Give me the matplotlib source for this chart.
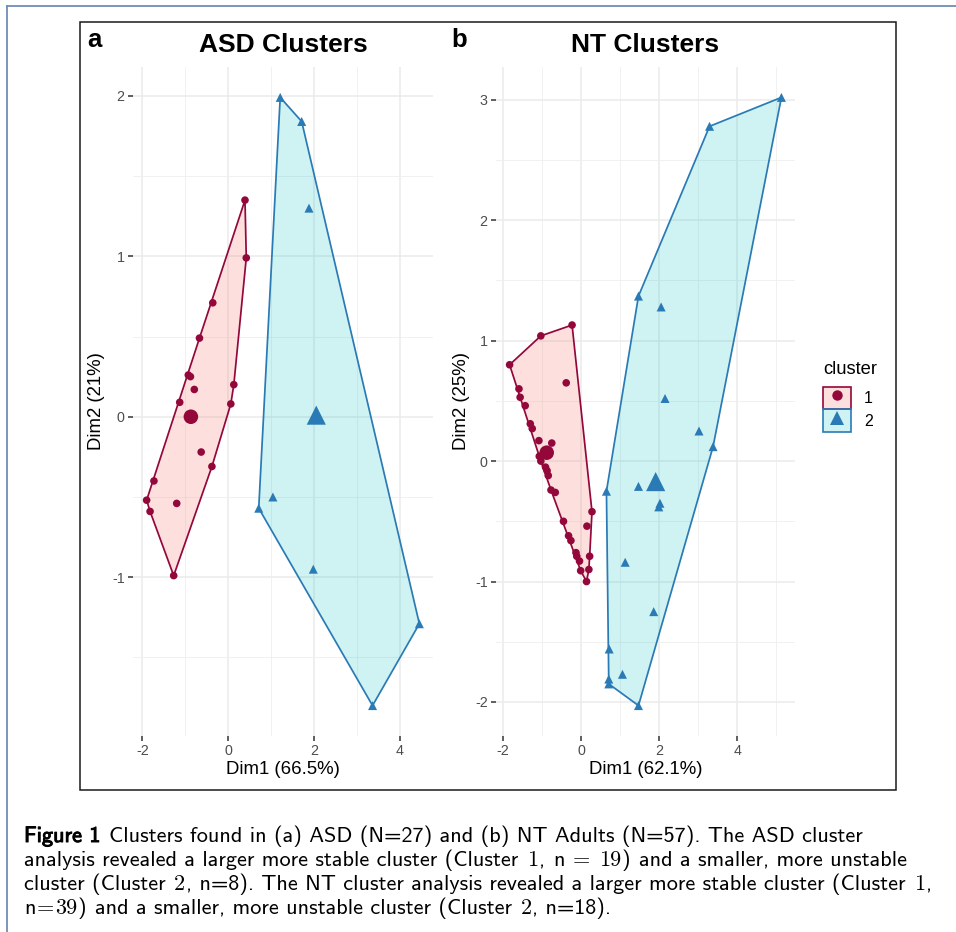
import numpy as np
import matplotlib
matplotlib.use("Agg")
import matplotlib.pyplot as plt
from matplotlib.patches import Patch, Rectangle
from matplotlib.lines import Line2D
from matplotlib.legend_handler import HandlerTuple
import matplotlib.patheffects as pe

# ---------------- data ----------------
asd_c1_x = [0.39, 0.42, -0.36, -0.67, -0.93, -0.88, -0.79, -1.13, 0.13, 0.06,
            -0.63, -0.38, -1.73, -1.90, -1.82, -1.20, -1.27]
asd_c1_y = [1.35, 0.99, 0.71, 0.49, 0.26, 0.25, 0.17, 0.09, 0.20, 0.08,
            -0.22, -0.31, -0.40, -0.52, -0.59, -0.54, -0.99]
asd_c2_x = [1.21, 1.71, 1.88, 1.04, 0.71, 1.98, 4.45, 3.36]
asd_c2_y = [1.99, 1.84, 1.30, -0.50, -0.57, -0.95, -1.29, -1.80]
asd_cent_x = [-0.87, 2.05]
asd_cent_y = [0.00, 0.01]

nt_c1_x = [-1.83, -1.03, -0.23, -0.38, -1.59, -1.56, -1.43, -1.30, -1.25, -1.08,
           -0.75, -1.07, -1.03, -0.91, -0.87, -0.84, -0.77, -0.66, 0.28, 0.15,
           -0.45, -0.32, -0.26, -0.13, -0.11, -0.04, 0.22, 0.20, -0.01, 0.14]
nt_c1_y = [0.80, 1.04, 1.13, 0.65, 0.60, 0.53, 0.46, 0.31, 0.27, 0.17,
           0.15, 0.04, 0.00, -0.05, -0.08, -0.12, -0.24, -0.26, -0.42, -0.54,
           -0.50, -0.62, -0.66, -0.76, -0.79, -0.83, -0.79, -0.90, -0.91, -1.00]
nt_c2_x = [5.13, 3.29, 1.47, 2.05, 2.15, 3.02, 3.38, 0.65, 1.47, 2.02,
           1.99, 1.13, 1.86, 0.72, 1.06, 0.71, 0.71, 1.47]
nt_c2_y = [3.02, 2.78, 1.37, 1.28, 0.52, 0.25, 0.12, -0.25, -0.21, -0.35,
           -0.38, -0.84, -1.25, -1.56, -1.77, -1.81, -1.85, -2.03]
nt_cent_x = [-0.88, 1.91]
nt_cent_y = [0.07, -0.17]

cluster_labels = ["1", "2"]
panel_titles = ["ASD Clusters", "NT Clusters"]
panel_letters = ["a", "b"]
xlabels = ["Dim1 (66.5%)", "Dim1 (62.1%)"]
ylabels = ["Dim2 (21%)", "Dim2 (25%)"]
asd_xticks = [-2, 0, 2, 4]
asd_yticks = [-1, 0, 1, 2]
nt_xticks = [-2, 0, 2, 4]
nt_yticks = [-2, -1, 0, 1, 2, 3]

# ---------------- style ----------------
LINE_COLS = ["#93073B", "#2A7AB5"]
FILL_COLS = [(0.973, 0.463, 0.427, 0.22), (0.0, 0.749, 0.769, 0.19)]
MARKERS = ["o", "^"]
FONT = "Liberation Sans"
plt.rcParams["font.family"] = [FONT, "DejaVu Sans"]
plt.rcParams["axes.unicode_minus"] = False
plt.rcParams["mathtext.fontset"] = "cm"

W, H = 956, 932
fig = plt.figure(figsize=(W / 100, H / 100), dpi=100)


def fx(px):
    return px / W


def fy(py):
    return 1 - py / H


def hull(xs, ys):
    pts = sorted(set(zip(xs, ys)))

    def cross(o, a, b):
        return (a[0] - o[0]) * (b[1] - o[1]) - (a[1] - o[1]) * (b[0] - o[0])

    lower, upper = [], []
    for p in pts:
        while len(lower) >= 2 and cross(lower[-2], lower[-1], p) <= 0:
            lower.pop()
        lower.append(p)
    for p in reversed(pts):
        while len(upper) >= 2 and cross(upper[-2], upper[-1], p) <= 0:
            upper.pop()
        upper.append(p)
    h = lower[:-1] + upper[:-1]
    return [p[0] for p in h], [p[1] for p in h]


def panel(rect, clusters, cents, xticks, yticks, title, letter, xl, yl, ylab_x, letter_x):
    ax = fig.add_axes(rect)
    ax.set_zorder(1)
    for i, (xs, ys) in enumerate(clusters):
        hx, hy = hull(xs, ys)
        ax.fill(hx, hy, facecolor=FILL_COLS[i], edgecolor="none", zorder=2)
        ax.fill(hx, hy, facecolor="none", edgecolor=LINE_COLS[i], lw=1.25, zorder=3)
        ms = 30 if MARKERS[i] == "o" else 42
        ax.scatter(xs, ys, s=ms, marker=MARKERS[i], color=LINE_COLS[i],
                   edgecolors="none", zorder=4)
        big = 110 if MARKERS[i] == "o" else 190
        ax.scatter([cents[0][i]], [cents[1][i]], s=big, marker=MARKERS[i],
                   color=LINE_COLS[i], edgecolors="none", zorder=5)
    ax.margins(0.05)
    ax.set_xticks(xticks)
    ax.set_yticks(yticks)
    ax.set_xticklabels([str(t) for t in xticks])
    ax.set_yticklabels([str(t) for t in yticks])
    x0, x1 = ax.get_xlim()
    y0, y1 = ax.get_ylim()
    xm = [t + 1 for t in range(int(np.floor(x0)) - 1, int(np.ceil(x1)) + 1, 2)
          if x0 < t + 1 < x1 and (t + 1) not in xticks]
    ym = [v for v in np.arange(np.floor(y0) - 0.5, np.ceil(y1) + 0.5, 1.0)
          if y0 < v < y1]
    ax.set_xticks(xm, minor=True)
    ax.set_yticks(ym, minor=True)
    ax.set_xlim(x0, x1)
    ax.set_ylim(y0, y1)
    ax.set_axisbelow(True)
    ax.grid(which="major", color="#EBEBEB", lw=1.1)
    ax.grid(which="minor", color="#EFEFEF", lw=0.6)
    for s in ax.spines.values():
        s.set_visible(False)
    ax.tick_params(which="major", length=3.6, width=1.1, color="#333333",
                   labelcolor="#4D4D4D", labelsize=10.3, pad=2.4)
    ax.tick_params(which="minor", length=0)
    ax.set_xlabel(xl, fontsize=13.4)
    ax.set_ylabel(yl, fontsize=13.4)
    ax.xaxis.set_label_coords(0.5, -0.038)
    ax.yaxis.set_label_coords(ylab_x, 0.5)
    ax.set_title(title, fontsize=19, fontweight="bold", pad=10.8)
    fig.text(fx(letter_x), fy(47), letter, fontsize=18.5, fontweight="bold",
             ha="left", va="baseline")
    return ax


ax_a = panel([fx(133), fy(736), (433 - 133) / W, (736 - 67) / H],
             [(asd_c1_x, asd_c1_y), (asd_c2_x, asd_c2_y)], (asd_cent_x, asd_cent_y),
             asd_xticks, asd_yticks, panel_titles[0], panel_letters[0],
             xlabels[0], ylabels[0], -0.093, 87)
ax_b = panel([fx(496), fy(736), (795 - 496) / W, (736 - 67) / H],
             [(nt_c1_x, nt_c1_y), (nt_c2_x, nt_c2_y)], (nt_cent_x, nt_cent_y),
             nt_xticks, nt_yticks, panel_titles[1], panel_letters[1],
             xlabels[1], ylabels[1], -0.087, 451)

# legend
fig.text(fx(823), fy(369), "cluster", fontsize=13.2, ha="left", va="center")
handles = []
for i in range(2):
    p = Patch(facecolor=FILL_COLS[i], edgecolor=LINE_COLS[i], lw=1.2)
    m = Line2D([], [], ls="none", marker=MARKERS[i], color=LINE_COLS[i],
               markersize=7.5 if MARKERS[i] == "o" else 9.5, markeredgewidth=0)
    handles.append((p, m))
fs_leg = 11.5
fig.legend(handles, cluster_labels, handler_map={tuple: HandlerTuple(ndivide=1, pad=0)},
           loc="upper left", bbox_to_anchor=(fx(823), fy(386.5)), frameon=False,
           fontsize=fs_leg, handlelength=28 / (fs_leg * 100 / 72),
           handleheight=28 / (fs_leg * 100 / 72), labelspacing=0.05,
           handletextpad=0.8, borderpad=0, borderaxespad=0)

# chart box and page frame
fig.add_artist(Rectangle((fx(80), fy(790)), (896 - 80) / W, (790 - 22) / H,
                         transform=fig.transFigure, fill=False, ec="#1a1a1a", lw=1.1))
fig.add_artist(Line2D([fx(7), 1.0], [fy(6), fy(6)], transform=fig.transFigure,
                      color="#6F8DB3", lw=1.3))
fig.add_artist(Line2D([fx(7), fx(7)], [fy(6), 0.0], transform=fig.transFigure,
                      color="#6F8DB3", lw=1.3))

# caption
CAP_SIZE = 16.0
SANS, ROMAN = "cmss10", "cmr10"
renderer = fig.canvas.get_renderer()


def twidth(s, fam):
    t = fig.text(0, 0, s, family=fam, fontsize=CAP_SIZE)
    w = t.get_window_extent(renderer=renderer).width
    t.remove()
    return w


SPACE = twidth("a a", SANS) - twidth("aa", SANS)


def caption_line(y, segs):
    x = 24.0
    for seg in segs:
        if seg == " ":
            x += SPACE
            continue
        txt, fam, bold = seg
        t = fig.text(fx(x), fy(y), txt, family=fam, fontsize=CAP_SIZE,
                     ha="left", va="baseline", color="black")
        if bold:
            t.set_path_effects([pe.withStroke(linewidth=0.7, foreground="black")])
        x += t.get_window_extent(renderer=renderer).width + 1.0


S = lambda s: (s, SANS, False)
R = lambda s: (s, ROMAN, False)
caption_line(842, [("Figure 1", SANS, True), " ",
                   S("Clusters found in (a) ASD (N=27) and (b) NT Adults (N=57). The ASD cluster")])
caption_line(866, [S("analysis revealed a larger more stable cluster (Cluster"), " ", R("1"),
                   S(","), " ", S("n"), " ", R("="), " ", R("19"), S(")"), " ",
                   S("and a smaller, more unstable")])
caption_line(890, [S("cluster (Cluster"), " ", R("2"), S(", n=8). The NT cluster analysis revealed a larger more stable cluster (Cluster"),
                   " ", R("1"), S(",")])
caption_line(914, [S("n"), R("="), R("39"), S(")"), " ",
                   S("and a smaller, more unstable cluster (Cluster"), " ", R("2"), S(", n=18).")])

fig.savefig("out.png", dpi=100)
